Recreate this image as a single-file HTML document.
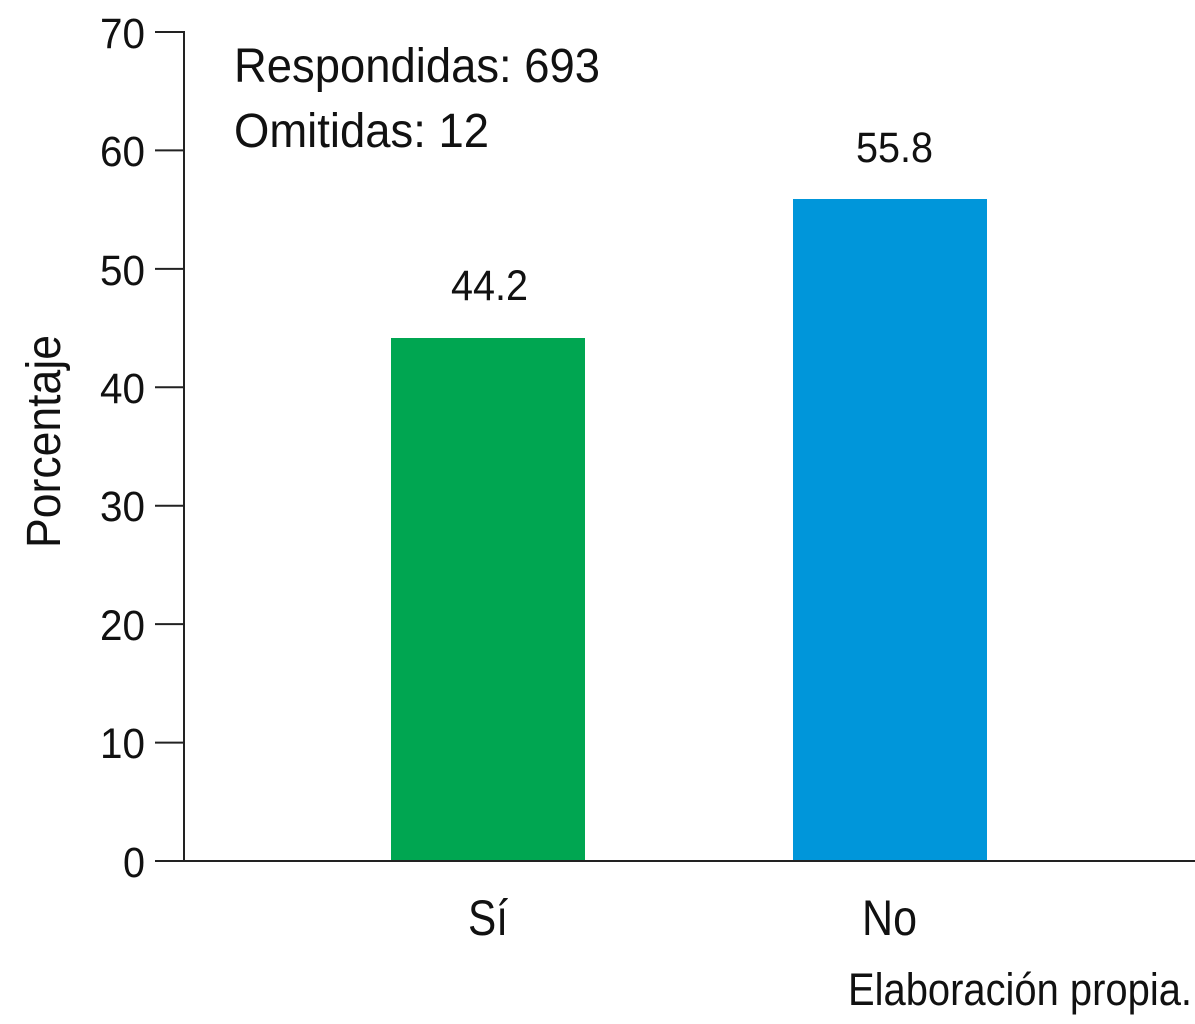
<!DOCTYPE html>
<html><head><meta charset="utf-8"><style>
html,body{margin:0;padding:0;background:#fff;}
svg{display:block;}
text{font-family:"Liberation Sans",sans-serif;fill:#111;}
</style></head><body>
<svg width="1195" height="1024" viewBox="0 0 1195 1024" xmlns="http://www.w3.org/2000/svg">
<rect x="391" y="338" width="194" height="523" fill="#00A651"/>
<rect x="793" y="199" width="194" height="662" fill="#0096DA"/>
<g stroke="#222" stroke-width="2" fill="none">
<line x1="184" y1="31" x2="184" y2="861"/>
<line x1="184" y1="861" x2="1195" y2="861"/>
<line x1="155" y1="32" x2="184" y2="32"/>
<line x1="155" y1="150.4" x2="184" y2="150.4"/>
<line x1="155" y1="268.9" x2="184" y2="268.9"/>
<line x1="155" y1="387.3" x2="184" y2="387.3"/>
<line x1="155" y1="505.7" x2="184" y2="505.7"/>
<line x1="155" y1="624.1" x2="184" y2="624.1"/>
<line x1="155" y1="742.6" x2="184" y2="742.6"/>
<line x1="155" y1="861" x2="184" y2="861"/>
</g>
<g font-size="43" text-anchor="end">
<text x="145" y="48" textLength="45" lengthAdjust="spacingAndGlyphs">70</text>
<text x="145" y="166" textLength="45" lengthAdjust="spacingAndGlyphs">60</text>
<text x="145" y="285" textLength="45" lengthAdjust="spacingAndGlyphs">50</text>
<text x="145" y="403" textLength="45" lengthAdjust="spacingAndGlyphs">40</text>
<text x="145" y="521" textLength="45" lengthAdjust="spacingAndGlyphs">30</text>
<text x="145" y="640" textLength="45" lengthAdjust="spacingAndGlyphs">20</text>
<text x="145" y="758" textLength="45" lengthAdjust="spacingAndGlyphs">10</text>
<text x="145" y="877" textLength="22" lengthAdjust="spacingAndGlyphs">0</text>
</g>
<text x="234" y="82" font-size="48" textLength="366" lengthAdjust="spacingAndGlyphs">Respondidas: 693</text>
<text x="234" y="147" font-size="48" textLength="255" lengthAdjust="spacingAndGlyphs">Omitidas: 12</text>
<text x="856" y="162" font-size="43" textLength="77" lengthAdjust="spacingAndGlyphs">55.8</text>
<text x="451" y="300" font-size="43" textLength="77" lengthAdjust="spacingAndGlyphs">44.2</text>
<text x="468" y="935" font-size="50" textLength="40" lengthAdjust="spacingAndGlyphs">Sí</text>
<text x="862" y="935" font-size="50" textLength="55" lengthAdjust="spacingAndGlyphs">No</text>
<text x="848" y="1005" font-size="45" textLength="344" lengthAdjust="spacingAndGlyphs">Elaboración propia.</text>
<text transform="translate(60,548) rotate(-90)" font-size="48" textLength="213" lengthAdjust="spacingAndGlyphs">Porcentaje</text>
</svg>
</body></html>
